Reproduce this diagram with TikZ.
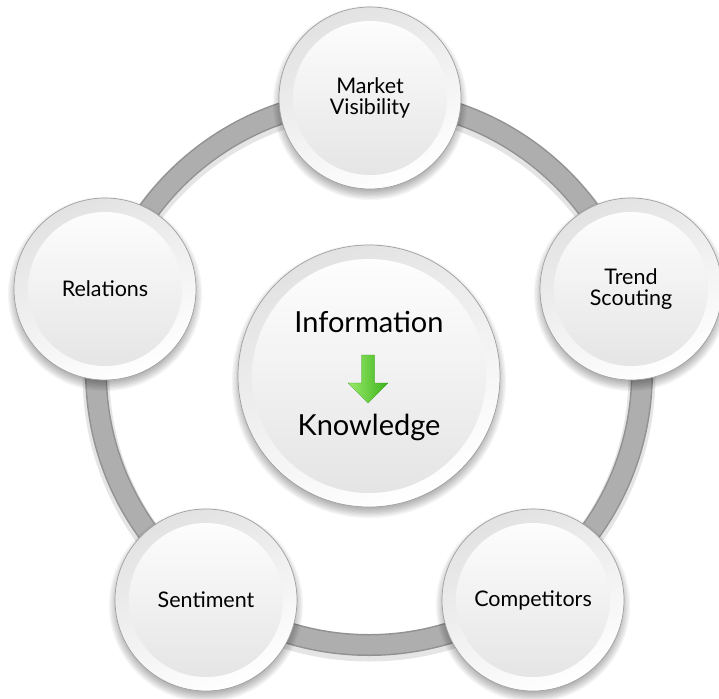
\documentclass[tikz,border=0pt]{standalone}
\usepackage{fontspec}
\setmainfont{Lato}
\definecolor{ringband}{HTML}{AEAEAE}
\definecolor{ringedge}{HTML}{929292}
\definecolor{rimline}{HTML}{A0A0A0}
\definecolor{rimtop}{HTML}{E2E2E2}
\definecolor{facebot}{HTML}{E3E3E3}
\definecolor{arrowlight}{HTML}{9CEB6A}
\definecolor{arrowdark}{HTML}{3BB31C}
\begin{document}
\begin{tikzpicture}[x=1pt,y=-1pt,
  bubble/.style={circle, inner sep=0pt, minimum size=182pt, draw=rimline, line width=0.7pt,
    top color=rimtop, bottom color=white, shading angle=25,
    font=\fontsize{21.5}{21.5}\selectfont, align=center, text=black,
    path picture={\shade[top color=white, bottom color=facebot]
      (path picture bounding box.center) circle (#1);}},
  bubble/.default=77pt,
  bigbubble/.style={bubble=117pt, minimum size=262pt},
  bigtext/.style={font=\fontsize{29}{30}\selectfont, anchor=base, text=black},
  ringshadow/.style={black, opacity=0.10, line width=27pt},
  ringdark/.style={ringedge, line width=22pt},
  ringmain/.style={ringband, line width=19pt},
  greenarrow/.style={left color=arrowlight, right color=arrowdark, draw=arrowdark!85!black, line width=0.3pt}
]
\useasboundingbox (0,0) rectangle (719,698);
\fill[white] (0,0) rectangle (719,698);

\coordinate (ringc) at (369,372);
\coordinate (pmv) at (370,98);
\coordinate (pts) at (631,289);
\coordinate (pco) at (533,600);
\coordinate (pse) at (206,600);
\coordinate (pre) at (105,289);
\coordinate (pce) at (369,376);

% ring
\draw[ringshadow] ([yshift=-3pt]ringc) circle (273);
\draw[ringdark] (ringc) circle (273);
\draw[ringmain] (ringc) circle (273);

% soft shadows
\foreach \n/\r in {pmv/91,pts/91,pco/91,pse/91,pre/91,pce/131}{
  \foreach \k in {0,...,7}{
    \fill[black, fill opacity=0.04] ([yshift=-5pt]\n) circle ({\r-3+\k*1.3});
  }
}

% bubbles
\node[bubble] (mv) at (pmv) {Market\\Visibility};
\node[bubble] (ts) at (pts) {Trend\\Scouting};
\node[bubble] (co) at (pco) {Competitors};
\node[bubble] (se) at (pse) {Sentiment};
\node[bubble] (re) at (pre) {Relations};
\node[bigbubble] (ce) at (pce) {};

% centre texts
\node[bigtext] (info) at (369,332) {Information};
\node[bigtext] (know) at (369,435) {Knowledge};
\shade[greenarrow] (361.5,355) -- (374.5,355) -- (374.5,383) -- (388,383)
  -- (368,403) -- (348,383) -- (361.5,383) -- cycle;
\end{tikzpicture}
\end{document}
